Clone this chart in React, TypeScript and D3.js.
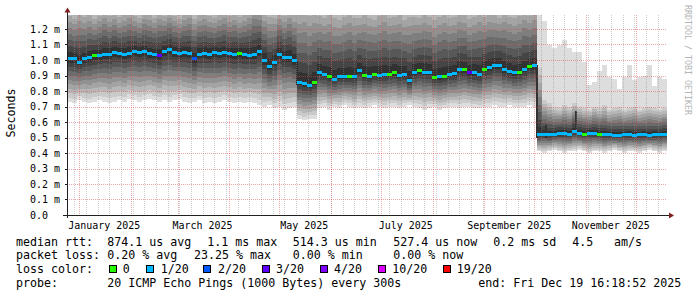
import React from 'react';
import * as d3 from 'd3';

const DAY = 86400000;
const END = new Date(2025, 11, 19, 16, 18, 52);
const SPAN_DAYS = 360;
const STEP_DAYS = 3;

// median rtt per 3-day step (ms)
const medianMs = [
  1.01, 1.01, 0.99, 1.01, 1.02, 1.03, 1.03, 1.04, 1.04, 1.05,
  1.045, 1.04, 1.045, 1.055, 1.05, 1.055, 1.045, 1.04, 1.03, 1.06,
  1.07, 1.05, 1.045, 1.05, 1.045, 1.01, 1.04, 1.045, 1.04, 1.05,
  1.045, 1.05, 1.045, 1.04, 1.045, 1.04, 1.035, 1.04, 1.06, 1.0,
  0.96, 0.99, 1.04, 1.02, 1.02, 1.0, 0.86, 0.85, 0.84, 0.86,
  0.92, 0.91, 0.9, 0.88, 0.9, 0.895, 0.9, 0.895, 0.935, 0.905,
  0.9, 0.91, 0.905, 0.91, 0.91, 0.92, 0.905, 0.91, 0.87, 0.92,
  0.935, 0.925, 0.925, 0.89, 0.895, 0.9, 0.91, 0.915, 0.94, 0.94,
  0.92, 0.92, 0.91, 0.945, 0.955, 0.965, 0.97, 0.94, 0.93, 0.92,
  0.925, 0.945, 0.96, 0.965, 0.52, 0.525, 0.52, 0.525, 0.53, 0.53,
  0.525, 0.545, 0.53, 0.525, 0.53, 0.53, 0.525, 0.52, 0.52, 0.515,
  0.515, 0.52, 0.52, 0.515, 0.52, 0.52, 0.515, 0.52, 0.52, 0.525,
];

// fastest ping per step (ms)
const lowMs = [
  0.73, 0.72, 0.74, 0.73, 0.72, 0.73, 0.74, 0.73, 0.72, 0.73,
  0.74, 0.73, 0.75, 0.74, 0.73, 0.74, 0.75, 0.74, 0.73, 0.74,
  0.73, 0.74, 0.75, 0.73, 0.72, 0.73, 0.74, 0.72, 0.73, 0.72,
  0.73, 0.74, 0.73, 0.72, 0.73, 0.72, 0.73, 0.72, 0.71, 0.7,
  0.71, 0.69, 0.7, 0.68, 0.69, 0.7, 0.62, 0.61, 0.62, 0.62,
  0.69, 0.7, 0.68, 0.7, 0.69, 0.71, 0.7, 0.69, 0.7, 0.69,
  0.7, 0.71, 0.7, 0.69, 0.7, 0.7, 0.69, 0.7, 0.71, 0.7,
  0.69, 0.68, 0.69, 0.7, 0.68, 0.69, 0.7, 0.7, 0.69, 0.7,
  0.7, 0.69, 0.69, 0.7, 0.7, 0.71, 0.7, 0.7, 0.71, 0.7,
  0.7, 0.7, 0.71, 0.7, 0.41, 0.4, 0.41, 0.42, 0.41, 0.4,
  0.41, 0.41, 0.42, 0.41, 0.4, 0.41, 0.41, 0.4, 0.41, 0.42,
  0.41, 0.4, 0.41, 0.41, 0.4, 0.41, 0.42, 0.41, 0.4, 0.41,
];

// second-slowest ping per step (ms)
const upperMs = [
  1.36, 1.34, 1.38, 1.35, 1.37, 1.33, 1.36, 1.39, 1.35, 1.37,
  1.34, 1.36, 1.38, 1.35, 1.33, 1.37, 1.36, 1.34, 1.38, 1.35,
  1.37, 1.35, 1.33, 1.36, 1.38, 1.34, 1.36, 1.37, 1.35, 1.33,
  1.36, 1.38, 1.35, 1.37, 1.34, 1.36, 1.39, 1.44, 1.42, 1.38,
  1.37, 1.35, 1.38, 1.36, 1.4, 1.37, 1.42, 1.44, 1.41, 1.43,
  1.39, 1.37, 1.4, 1.38, 1.36, 1.39, 1.41, 1.38, 1.37, 1.4,
  1.38, 1.36, 1.39, 1.41, 1.37, 1.38, 1.4, 1.36, 1.39, 1.38,
  1.37, 1.4, 1.38, 1.36, 1.39, 1.41, 1.37, 1.38, 1.4, 1.39,
  1.36, 1.38, 1.41, 1.37, 1.39, 1.38, 1.36, 1.4, 1.38, 1.37,
  1.39, 1.41, 1.38, 1.4, 0.95, 0.74, 0.72, 0.7, 0.69, 0.71,
  0.7, 0.72, 0.7, 0.69, 0.68, 0.7, 0.69, 0.71, 0.68, 0.69,
  0.7, 0.68, 0.69, 0.7, 0.68, 0.69, 0.7, 0.69, 0.68, 0.69,
];

// slowest ping per step (ms)
const peakMs = [
  1.5, 1.5, 1.5, 1.5, 1.5, 1.5, 1.5, 1.5, 1.5, 1.5,
  1.5, 1.5, 1.5, 1.5, 1.5, 1.5, 1.5, 1.5, 1.5, 1.5,
  1.5, 1.5, 1.5, 1.5, 1.5, 1.5, 1.5, 1.5, 1.5, 1.5,
  1.5, 1.5, 1.5, 1.5, 1.5, 1.5, 1.5, 1.5, 1.5, 1.5,
  1.5, 1.5, 1.5, 1.5, 1.5, 1.5, 1.5, 1.5, 1.5, 1.5,
  1.5, 1.5, 1.5, 1.5, 1.5, 1.5, 1.5, 1.5, 1.5, 1.5,
  1.5, 1.5, 1.5, 1.5, 1.5, 1.5, 1.5, 1.5, 1.5, 1.5,
  1.5, 1.5, 1.5, 1.5, 1.5, 1.5, 1.5, 1.5, 1.5, 1.5,
  1.5, 1.5, 1.5, 1.5, 1.5, 1.5, 1.5, 1.5, 1.5, 1.5,
  1.5, 1.5, 1.5, 1.5, 1.4, 1.25, 1.1, 1.08, 1.1, 1.13,
  1.08, 1.05, 1.05, 0.99, 0.84, 0.86, 0.93, 0.97, 0.89, 0.88,
  0.81, 0.89, 0.97, 0.87, 0.89, 0.9, 0.97, 0.83, 0.89, 0.88,
];

// loss colour index per step
const lossLevel = [
  1, 1, 1, 1, 1, 0, 1, 1, 1, 1,
  1, 1, 1, 1, 1, 1, 1, 1, 3, 1,
  1, 1, 1, 1, 1, 2, 1, 1, 1, 1,
  1, 1, 1, 1, 0, 1, 1, 1, 1, 1,
  1, 1, 1, 1, 1, 1, 1, 1, 1, 0,
  1, 1, 0, 1, 1, 1, 0, 1, 1, 0,
  1, 0, 1, 1, 0, 0, 1, 1, 1, 1,
  0, 1, 1, 0, 1, 0, 1, 1, 1, 0,
  3, 1, 1, 0, 1, 1, 1, 1, 1, 1,
  0, 1, 0, 1, 1, 1, 1, 1, 1, 1,
  1, 1, 1, 0, 1, 1, 0, 1, 1, 1,
  1, 1, 1, 1, 1, 1, 1, 1, 1, 1,
];

// short transitional columns where the core of the smoke spans a wide range
const jumpDay = [138, 282, 287.1, 305.4];
const jumpLow = [0.84, 0.5, 0.5, 0.53];
const jumpHigh = [1.0, 0.97, 0.58, 0.67];

const yTicks = [0, 0.1, 0.2, 0.3, 0.4, 0.5, 0.6, 0.7, 0.8, 0.9, 1.0, 1.1, 1.2];
const monthLabelMonths = [0, 2, 4, 6, 8, 10];
const monthLabels = ['January 2025', 'March 2025', 'May 2025', 'July 2025', 'September 2025', 'November 2025'];

const lossColors = ['#26ff00', '#00b8ff', '#0059ff', '#5e00ff', '#7e00ff', '#dd00ff', '#ff0000'];
const lossLabels = ['0', '1/20', '2/20', '3/20', '4/20', '10/20', '19/20'];
const smokeGrays = [221, 202, 183, 164, 145, 126, 107, 88, 69, 50];

const legendRtt = [
  ['median rtt:', 16], ['874.1 us avg', 107.3], ['1.1 ms max', 207.3], ['514.3 us min', 292.7],
  ['527.4 us now', 393.3], ['0.2 ms sd', 493.3], ['4.5', 572.3], ['am/s', 614],
];
const legendLoss = [
  ['packet loss:', 16], ['0.20 % avg', 107.3], ['23.25 % max', 194], ['0.00 % min', 292.7], ['0.00 % now', 393.3],
];
const lossBoxX = [108.7, 146, 203.3, 261.7, 320, 378.3, 442.7];
const lossLabelX = [122.7, 160.7, 218, 276, 334, 392.3, 456.7];
const legendProbe = [
  ['probe:', 16], ['20 ICMP Echo Pings (1000 Bytes) every 300s', 107.3], ['end: Fri Dec 19 16:18:52 2025', 478.3],
];

const MONO = '"DejaVu Sans Mono", monospace';

export default function App() {
  const W = 697, H = 297;
  const X0 = 67, X1 = 667, YT = 15, YB = 215;
  const start = new Date(END.getTime() - SPAN_DAYS * DAY);
  const x = d3.scaleTime().domain([start, END]).range([X0, X1]);
  const y = d3.scaleLinear().domain([0, 1.2]).range([YB, 29]);
  const tAt = (i: number) => new Date(start.getTime() + i * STEP_DAYS * DAY);

  const smoke: JSX.Element[] = [];
  medianMs.forEach((m, i) => {
    const lo = lowMs[i], up = upperMs[i], pk = peakMs[i];
    const xa = x(tAt(i)), xb = x(tAt(i + 1));
    for (let k = 0; k < 10; k++) {
      const bottom = lo + ((m - lo) * k) / 10;
      const top = k === 0 ? pk : up - ((up - m) * (k - 1)) / 9;
      const g = smokeGrays[k];
      const ya = y(top), yb = y(bottom);
      smoke.push(
        <rect key={`s${i}-${k}`} x={xa} y={ya} width={xb - xa} height={Math.max(0, yb - ya)}
          fill={`rgb(${g},${g},${g})`} />
      );
    }
  });

  const jumps = jumpDay.map((d, j) => {
    const xa = x(new Date(start.getTime() + (d - 0.6) * DAY));
    const xb = x(new Date(start.getTime() + (d + 0.6) * DAY));
    return <rect key={`j${j}`} x={xa} y={y(jumpHigh[j])} width={xb - xa}
      height={y(jumpLow[j]) - y(jumpHigh[j])} fill="#323232" />;
  });

  const medians = medianMs.map((m, i) => {
    const xa = x(tAt(i)), xb = x(tAt(i + 1));
    const yc = Math.round(y(m));
    return <rect key={`m${i}`} x={xa} y={yc - 1} width={xb - xa} height={3} fill={lossColors[lossLevel[i]]} />;
  });

  const weeks = d3.timeSunday.range(start, END);
  const months = d3.timeMonth.range(start, END);

  return (
    <svg width={W} height={H} style={{ position: 'absolute', left: 0, top: 0, background: '#fff' }}
      xmlns="http://www.w3.org/2000/svg">
      <defs>
        <clipPath id="plot"><rect x={X0} y={YT} width={X1 - X0} height={YB - YT} /></clipPath>
      </defs>
      <rect x={0} y={0} width={W} height={H} fill="#ffffff" />
      <g clipPath="url(#plot)" shapeRendering="crispEdges">
        {smoke}
        {jumps}
      </g>
      <g shapeRendering="crispEdges">
        {weeks.map((w, i) => (
          <line key={`w${i}`} x1={Math.round(x(w)) + 0.5} x2={Math.round(x(w)) + 0.5} y1={YT} y2={YB}
            stroke="rgba(143,143,143,0.45)" strokeDasharray="1,1" />
        ))}
        {months.map((mo, i) => (
          <line key={`mo${i}`} x1={Math.round(x(mo)) + 0.5} x2={Math.round(x(mo)) + 0.5} y1={YT} y2={YB}
            stroke="rgba(222,79,79,0.5)" strokeDasharray="1,1" />
        ))}
        {yTicks.slice(1).map((v, i) => (
          <line key={`h${i}`} x1={X0} x2={X1} y1={Math.round(y(v)) + 0.5} y2={Math.round(y(v)) + 0.5}
            stroke="rgba(222,79,79,0.5)" strokeDasharray="1,1" />
        ))}
      </g>
      <g clipPath="url(#plot)" shapeRendering="crispEdges">{medians}</g>
      <g shapeRendering="crispEdges">
        <line x1={X0 - 4} x2={X1 + 4} y1={YB + 0.5} y2={YB + 0.5} stroke="#202020" />
        <line x1={X0 + 0.5} x2={X0 + 0.5} y1={YB + 3} y2={YT - 3} stroke="#202020" />
        {yTicks.map((v, i) => (
          <line key={`yt${i}`} x1={X0 - 2} x2={X0} y1={Math.round(y(v)) + 0.5} y2={Math.round(y(v)) + 0.5}
            stroke="#202020" />
        ))}
      </g>
      <polygon points={`${X0 - 2.5},${YT - 2.5} ${X0 + 3.5},${YT - 2.5} ${X0 + 0.5},${YT - 7.5}`} fill="#7f1f1f" />
      <polygon points={`${X1 + 2},${YB - 2.5} ${X1 + 2},${YB + 3.5} ${X1 + 7},${YB + 0.5}`} fill="#7f1f1f" />
      <g fontFamily={MONO} fontSize={9.97} fill="#000">
        {yTicks.map((v, i) => (
          <text key={`yl${i}`} x={30} y={y(v) + 3.5}>{v === 0 ? '0.0' : `${v.toFixed(1)} m`}</text>
        ))}
        {monthLabelMonths.map((mIdx, i) => (
          <text key={`xl${i}`} x={x(new Date(new Date(2025, mIdx, 1).getTime() + 15 * DAY))} y={228.5}
            textAnchor="middle">{monthLabels[i]}</text>
        ))}
      </g>
      <text fontFamily={MONO} fontSize={11.63} transform="translate(15,113) rotate(-90)" textAnchor="middle">Seconds</text>
      <text fontFamily={MONO} fontSize={8.3} fill="#b4b4b4" transform="translate(685,5) rotate(90)">RRDTOOL / TOBI OETIKER</text>
      <g fontFamily={MONO} fontSize={11.63} fill="#000">
        {legendRtt.map(([t, px], i) => <text key={`lr${i}`} x={px as number} y={245.5}>{t}</text>)}
        {legendLoss.map(([t, px], i) => <text key={`ll${i}`} x={px as number} y={259}>{t}</text>)}
        <text x={16} y={272.5}>loss color:</text>
        {lossBoxX.map((bx, i) => (
          <rect key={`lb${i}`} x={Math.round(bx) + 0.5} y={265.5} width={7} height={7} fill={lossColors[i]}
            stroke="#000" strokeWidth={1} shapeRendering="crispEdges" />
        ))}
        {lossLabelX.map((lx, i) => <text key={`lt${i}`} x={lx} y={272.5}>{lossLabels[i]}</text>)}
        {legendProbe.map(([t, px], i) => <text key={`lp${i}`} x={px as number} y={286.5}>{t}</text>)}
      </g>
    </svg>
  );
}
